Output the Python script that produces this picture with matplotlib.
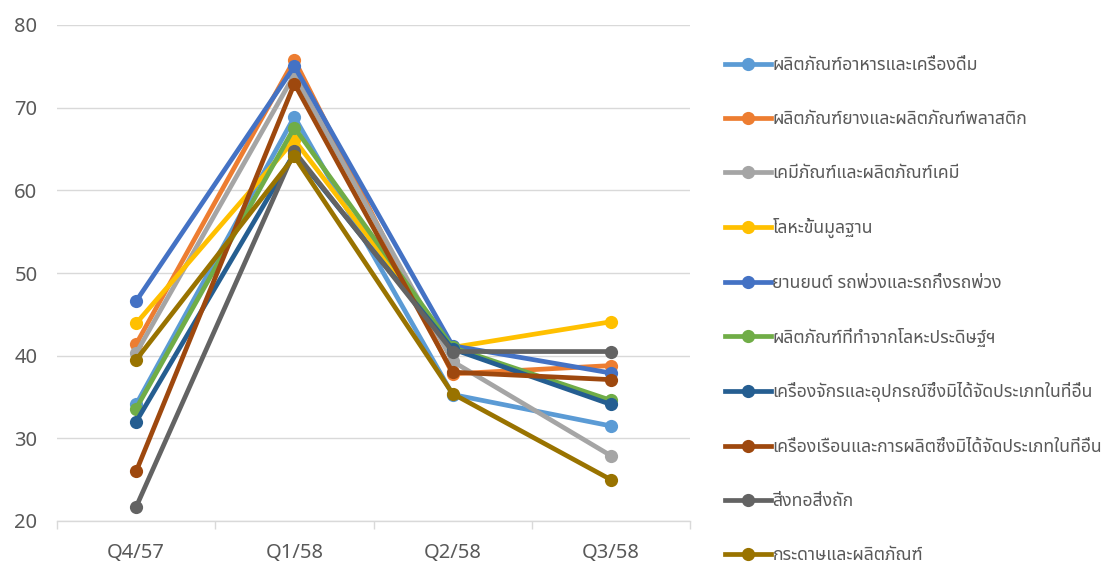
import matplotlib
matplotlib.use("Agg")
import matplotlib.pyplot as plt
from matplotlib import font_manager
from matplotlib.ft2font import FT2Font
from matplotlib.lines import Line2D

# ---- data ----
quarters = ["Q4/57", "Q1/58", "Q2/58", "Q3/58"]
series_names = [
    "ผลิตภัณฑ์อาหารและเครื่องดื่ม",
    "ผลิตภัณฑ์ยางและผลิตภัณฑ์พลาสติก",
    "เคมีภัณฑ์และผลิตภัณฑ์เคมี",
    "โลหะขั้นมูลฐาน",
    "ยานยนต์ รถพ่วงและรถกึ่งรถพ่วง",
    "ผลิตภัณฑ์ที่ทำจากโลหะประดิษฐ์ฯ",
    "เครื่องจักรและอุปกรณ์ซึ่งมิได้จัดประเภทในที่อื่น",
    "เครื่องเรือนและการผลิตซึ่งมิได้จัดประเภทในที่อื่น",
    "สิ่งทอสิ่งถัก",
    "กระดาษและผลิตภัณฑ์",
]
food = [34.1, 68.9, 35.3, 31.5]
rubber = [41.4, 75.8, 37.8, 38.8]
chemical = [40.3, 74.0, 39.3, 27.9]
basic_metal = [43.9, 66.1, 41.0, 44.1]
automotive = [46.6, 75.0, 41.2, 37.9]
fabricated_metal = [33.6, 67.6, 41.0, 34.6]
machinery = [32.0, 64.5, 40.8, 34.1]
furniture = [26.0, 72.9, 38.0, 37.1]
textiles = [21.7, 64.7, 40.5, 40.5]
paper = [39.5, 64.1, 35.4, 25.0]
series_values = [food, rubber, chemical, basic_metal, automotive,
                 fabricated_metal, machinery, furniture, textiles, paper]
y_ticks = [20, 30, 40, 50, 60, 70, 80]

colors = ["#5B9BD5", "#ED7D31", "#A5A5A5", "#FFC000", "#4472C4",
          "#70AD47", "#255E91", "#9E480E", "#636363", "#997300"]

# ---- font with Thai glyphs ----
def find_thai_family():
    preferred = ["Tahoma", "Leelawadee UI", "Leelawadee", "Noto Sans Thai",
                 "Noto Sans Thai UI", "Loma", "Garuda", "Sarabun", "Norasi"]
    found = {}
    for f in font_manager.fontManager.ttflist:
        try:
            cm = FT2Font(f.fname).get_charmap()
        except Exception:
            continue
        if 0x0E01 in cm and 0x0E4C in cm:
            found.setdefault(f.name, f.fname)
    for p in preferred:
        if p in found:
            return p
    if found:
        return sorted(found)[0]
    return None

thai = find_thai_family()
fam = ([thai] if thai else []) + ["DejaVu Sans"]
plt.rcParams["font.family"] = fam

text_color = "#595959"
grid_color = "#D9D9D9"

fig = plt.figure(figsize=(11.09, 5.66), dpi=100)
W, H = 1109, 566
left, right = 57, 690
top, bottom = 25, 521
ax = fig.add_axes([left / W, 1 - bottom / H, (right - left) / W, (bottom - top) / H])

LW = 3.4
MS = 9.5
x = list(range(len(quarters)))
for name, vals, c in zip(series_names, series_values, colors):
    ax.plot(x, vals, color=c, lw=LW, marker="o", markersize=MS,
            markeredgewidth=0, label=name, solid_capstyle="round")

ax.set_xlim(-0.5, len(quarters) - 0.5)
ax.set_ylim(20, 80)
ax.set_yticks(y_ticks)
ax.set_xticks(x)
ax.set_xticklabels(quarters)
ax.set_xticks([i - 0.5 for i in range(len(quarters) + 1)], minor=True)
ax.grid(axis="y", color=grid_color, lw=1.0)
ax.set_axisbelow(True)
for s in ["left", "right", "top"]:
    ax.spines[s].set_visible(False)
ax.spines["bottom"].set_color(grid_color)
ax.spines["bottom"].set_linewidth(1.0)
ax.tick_params(axis="y", length=0, pad=14, labelsize=14.5, labelcolor=text_color)
ax.tick_params(axis="x", which="major", length=0, pad=16, labelsize=14.5, labelcolor=text_color)
ax.tick_params(axis="x", which="minor", length=6, color=grid_color, width=1.0)

handles = [Line2D([0], [0], color=c, lw=LW, marker="o", markersize=MS,
                  markeredgewidth=0) for c in colors]
leg = fig.legend(handles, series_names, loc="upper left",
                 bbox_to_anchor=(716 / W, 1 - 47.5 / H), frameon=False,
                 fontsize=12.7, labelcolor=text_color, handlelength=2.6,
                 handletextpad=0.1, labelspacing=2.03, borderpad=0)

fig.savefig("out.png", dpi=100)
